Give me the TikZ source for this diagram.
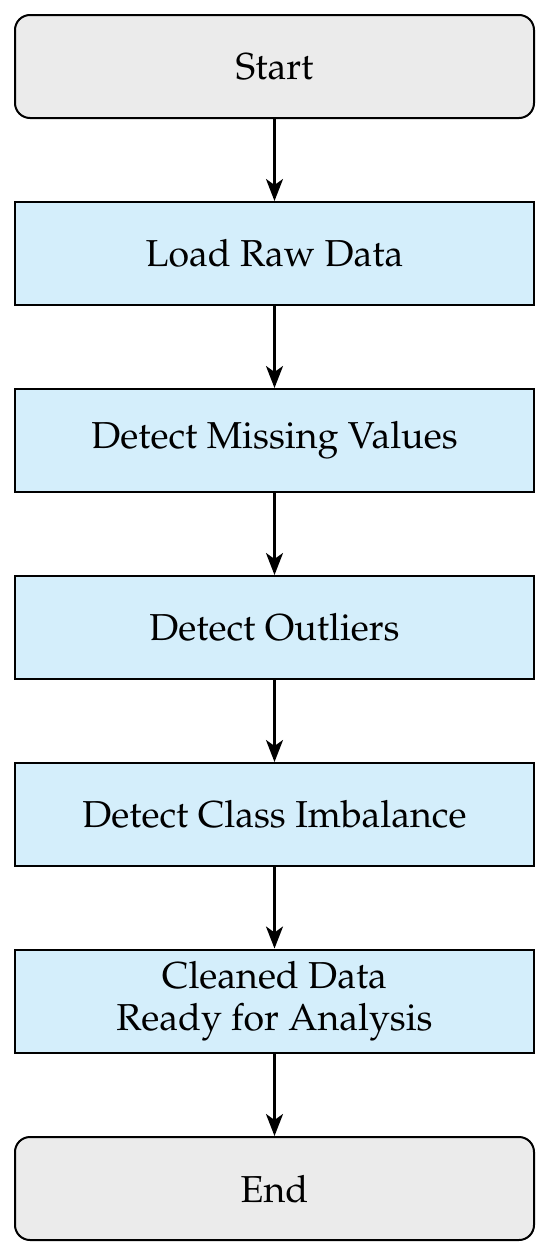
\documentclass[tikz,border=0pt]{standalone}
\usepackage[T1]{fontenc}
\usepackage{mathpazo}
\usetikzlibrary{arrows.meta}
\definecolor{procfill}{HTML}{D4EEFB}
\definecolor{termfill}{HTML}{EBEBEB}
\tikzset{
  base/.style={draw=black, line width=2pt, minimum width=519pt, minimum height=103pt, align=center, font=\fontsize{37.5}{42}\selectfont, inner sep=0pt},
  proc/.style={base, fill=procfill},
  term/.style={base, fill=termfill, rounded corners=15pt},
  conn/.style={line width=2.5pt, -{Stealth[length=22pt, width=17pt, inset=6pt]}}
}
\begin{document}
\begin{tikzpicture}[x=1pt, y=-1pt]
\useasboundingbox (0,0) rectangle (550,1256);
\node[term] (start) at (274.5,66.5) {Start};
\node[proc] (load) at (274.5,253.5) {Load Raw Data};
\node[proc] (miss) at (274.5,440.5) {Detect Missing Values};
\node[proc] (out) at (274.5,627.5) {Detect Outliers};
\node[proc] (imb) at (274.5,814.5) {Detect Class Imbalance};
\node[proc] (clean) at (274.5,1001) {Cleaned Data\\Ready for Analysis};
\node[term] (end) at (274.5,1188.5) {End};
\draw[conn] (start) -- (load);
\draw[conn] (load) -- (miss);
\draw[conn] (miss) -- (out);
\draw[conn] (out) -- (imb);
\draw[conn] (imb) -- (clean);
\draw[conn] (clean) -- (end);
\end{tikzpicture}
\end{document}
